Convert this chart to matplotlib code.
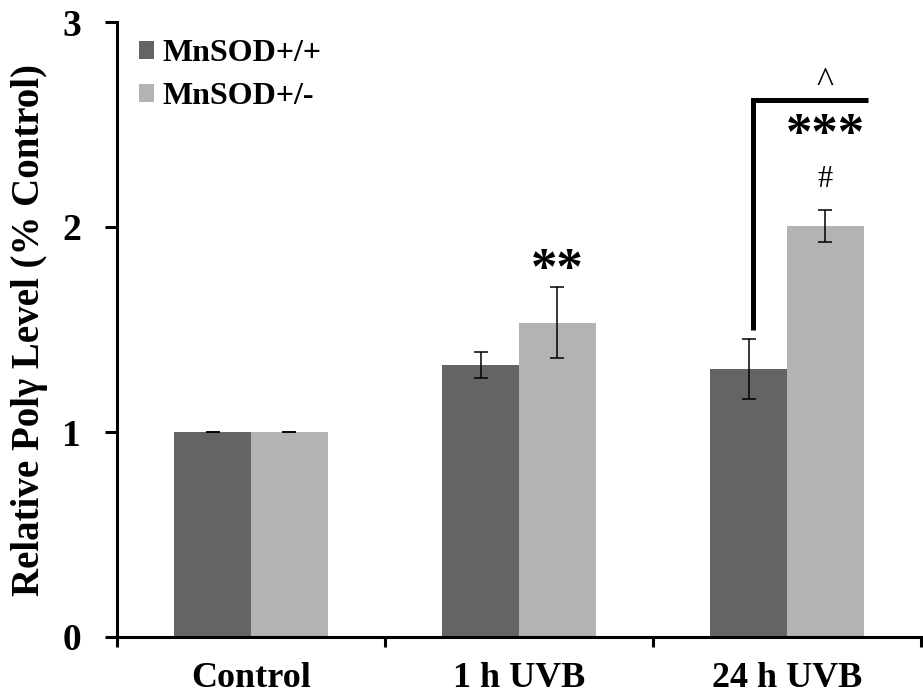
import matplotlib
matplotlib.use("Agg")
import matplotlib.pyplot as plt
import numpy as np
from matplotlib.patches import Patch

categories = ["Control", "1 h UVB", "24 h UVB"]
series_names = ["MnSOD+/+", "MnSOD+/-"]
wt_values = [1.0, 1.327, 1.307]
wt_err = [0.0, 0.063, 0.146]
het_values = [1.0, 1.532, 2.005]
het_err = [0.0, 0.173, 0.076]
y_ticks = [0, 1, 2, 3]

dark = "#646464"
light = "#b3b3b3"
serif = "Liberation Serif"

fig = plt.figure(figsize=(9.23, 6.95), dpi=100)
ax = fig.add_axes([117/923, 58/695, 804/923, 615/695])

x = np.arange(len(categories))
w = 0.287
ax.bar(x - w/2, wt_values, w, color=dark, zorder=2)
ax.bar(x + w/2, het_values, w, color=light, zorder=2)
ekw = dict(fmt="none", ecolor="black", elinewidth=1.1, capsize=5, capthick=1.1, zorder=3)
ax.errorbar(x - w/2, wt_values, yerr=wt_err, **ekw)
ax.errorbar(x + w/2, het_values, yerr=het_err, **ekw)

ax.set_xlim(-0.5, 2.5)
ax.set_ylim(0, 3)
for s in ["top", "right"]:
    ax.spines[s].set_visible(False)
for s in ["left", "bottom"]:
    ax.spines[s].set_linewidth(2.2)

ax.set_yticks(y_ticks)
ax.set_yticklabels([str(t) for t in y_ticks], fontfamily=serif, fontweight="bold", fontsize=27)
ax.tick_params(axis="y", direction="out", length=9, width=2.2, pad=17)

ax.set_xticks([-0.5, 0.5, 1.5, 2.5])
ax.set_xticklabels([])
ax.set_xticks(x, minor=True)
ax.set_xticklabels(categories, minor=True, fontfamily=serif, fontweight="bold", fontsize=26)
ax.tick_params(axis="x", which="major", direction="out", length=7, width=2.2)
ax.tick_params(axis="x", which="minor", length=0, pad=18)

ax.set_ylabel("Relative Polγ Level (% Control)", fontfamily=serif, fontweight="bold", fontsize=28)
ax.yaxis.set_label_coords(-0.086, 0.5)

handles = [Patch(facecolor=dark, edgecolor="none"), Patch(facecolor=light, edgecolor="none")]
leg = ax.legend(handles, series_names, loc="upper left", bbox_to_anchor=(0.011, 0.993),
                frameon=False, prop={"family": serif, "weight": "bold", "size": 23},
                handlelength=0.48, handleheight=0.48, handletextpad=0.28, labelspacing=0.45,
                borderaxespad=0.0)

# significance marks
ax.text(x[1] + w/2, 1.785, "**", ha="center", va="center", fontfamily=serif,
        fontweight="bold", fontsize=38)
ax.text(x[2] + w/2, 2.445, "***", ha="center", va="center", fontfamily=serif,
        fontweight="bold", fontsize=38)
ax.text(x[2] + w/2, 2.23, "#", ha="center", va="center", fontfamily=serif, fontsize=22)
ax.text(x[2] + w/2, 2.70, "^", ha="center", va="center", fontfamily=serif, fontsize=26)
ax.plot([1.873, 1.873, 2.302], [1.498, 2.62, 2.62], color="black", lw=3.6,
        solid_joinstyle="miter", solid_capstyle="butt", zorder=4)

fig.savefig("out.png", dpi=100)
